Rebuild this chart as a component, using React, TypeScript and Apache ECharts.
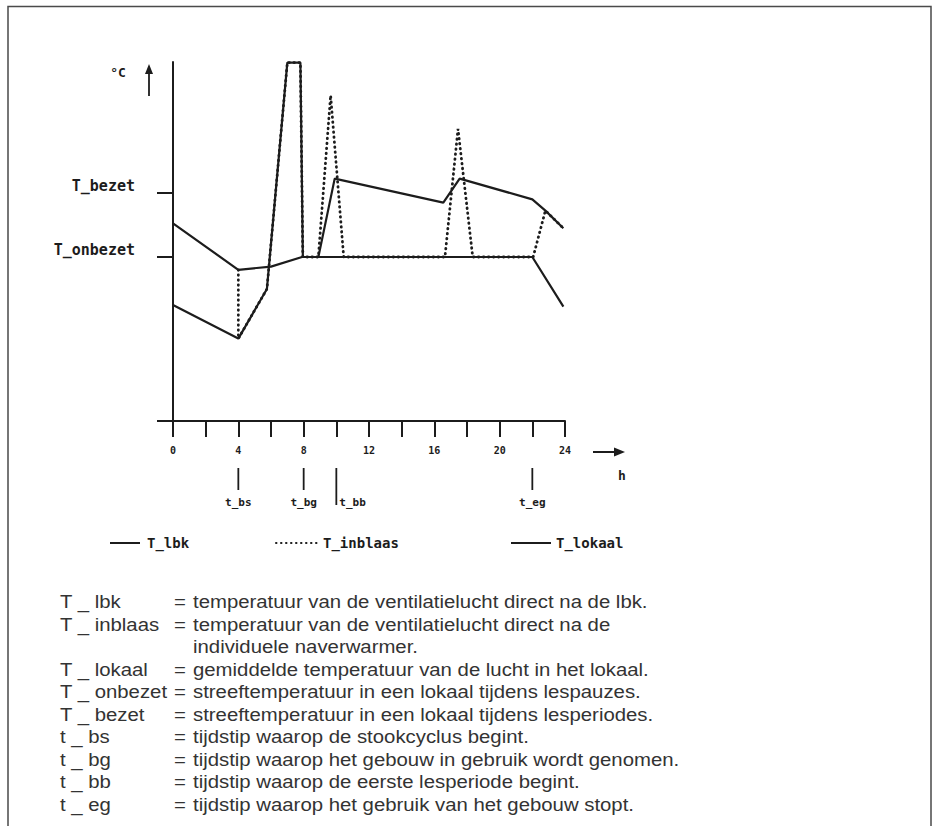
import React, { useEffect, useRef } from 'react';
import * as echarts from 'echarts';

// ---- data (hours of the day, temperature in °C on an arbitrary scale) ----
const hoursLbk = [0, 4, 5.75, 7, 7.8, 7.95, 22, 23.9];
const valuesLbk = [13.0, 10.9, 14.0, 28.15, 28.15, 16.0, 16.0, 12.9];

const hoursInblaas = [4, 4, 5.75, 7, 7.8, 7.95, 8.9, 9.65, 10.45, 16.65, 17.45, 18.35, 22.05, 22.8, 23.9];
const valuesInblaas = [15.2, 10.9, 14.0, 28.15, 28.15, 16.0, 16.0, 26.1, 16.0, 16.0, 24.0, 16.0, 16.0, 18.9, 17.8];

const hoursLokaal = [0, 4, 6, 7.9, 8.9, 9.9, 16.55, 17.55, 22, 22.8, 23.9];
const valuesLokaal = [18.1, 15.2, 15.4, 16.0, 16.0, 20.9, 19.4, 20.9, 19.6, 18.9, 17.8];

const seriesNames = ['T_lbk', 'T_inblaas', 'T_lokaal'];

const yLevelValues = [16, 20];
const yLevelLabels = ['T_onbezet', 'T_bezet'];

const timeMarkerNames = ['t_bs', 't_bg', 't_bb', 't_eg'];
const timeMarkerHours = [4, 8, 10, 22];

const defTerms = ['T _ lbk', 'T _ inblaas', '', 'T _ lokaal', 'T _ onbezet', 'T _ bezet', 't _ bs', 't _ bg', 't _ bb', 't _ eg'];
const defTexts = [
  'temperatuur van de ventilatielucht direct na de lbk.',
  'temperatuur van de ventilatielucht direct na de',
  'individuele naverwarmer.',
  'gemiddelde temperatuur van de lucht in het lokaal.',
  'streeftemperatuur in een lokaal tijdens lespauzes.',
  'streeftemperatuur in een lokaal tijdens lesperiodes.',
  'tijdstip waarop de stookcyclus begint.',
  'tijdstip waarop het gebouw in gebruik wordt genomen.',
  'tijdstip waarop de eerste lesperiode begint.',
  'tijdstip waarop het gebruik van het gebouw stopt.',
];

const INK = '#1c1c1c';
const MONO = "'DejaVu Sans Mono', monospace";
const SANS = "'Liberation Sans', Arial, sans-serif";

const pairs = (xs: number[], ys: number[]) => xs.map((x, i) => [x, ys[i]]);

export default function App() {
  const ref = useRef<HTMLDivElement>(null);
  useEffect(() => {
    if (!ref.current) return;
    const chart = echarts.init(ref.current, null, { renderer: 'svg', width: 939, height: 826 });
    const legendText = { fontFamily: MONO, fontWeight: 'bold', fontSize: 14, color: INK };
    const legendBase = { itemHeight: 14, itemGap: 0, itemStyle: { opacity: 0 }, top: 531 };
    chart.setOption({
      animation: false,
      backgroundColor: '#ffffff',
      grid: { left: 173, top: 62, width: 392, height: 359 },
      legend: [
        { ...legendBase, data: [seriesNames[0]], left: 104, itemWidth: 30, textStyle: { ...legendText, padding: [0, 0, 0, 2] } },
        { ...legendBase, data: [seriesNames[1]], left: 270, itemWidth: 42, textStyle: { ...legendText, padding: [0, 0, 0, 0] } },
        { ...legendBase, data: [seriesNames[2]], left: 505, itemWidth: 40, textStyle: { ...legendText, padding: [0, 0, 0, 0] } },
      ],
      xAxis: {
        type: 'value',
        min: 0,
        max: 24,
        interval: 2,
        axisLine: { show: true, lineStyle: { color: INK, width: 2 } },
        axisTick: { show: true, length: 16, lineStyle: { color: INK, width: 2 } },
        splitLine: { show: false },
        axisLabel: {
          margin: 24,
          fontFamily: MONO,
          fontWeight: 'bold',
          fontSize: 10,
          color: INK,
          hideOverlap: false,
          showMinLabel: true,
          showMaxLabel: true,
          formatter: (v: number) => (v % 4 === 0 ? String(v) : ''),
        },
      },
      yAxis: {
        type: 'value',
        min: 5.75,
        max: 28.1875,
        axisLine: { show: true, lineStyle: { color: INK, width: 2 } },
        axisTick: { show: true, length: 16, customValues: [5.75, ...yLevelValues], lineStyle: { color: INK, width: 2 } },
        splitLine: { show: false },
        axisLabel: {
          customValues: yLevelValues,
          margin: 38,
          verticalAlign: 'bottom',
          fontFamily: MONO,
          fontWeight: 'bold',
          fontSize: 15,
          color: INK,
          formatter: (v: number) => {
            const i = yLevelValues.indexOf(v);
            return i >= 0 ? yLevelLabels[i] : '';
          },
        },
      },
      series: [
        {
          name: seriesNames[0],
          type: 'line',
          data: pairs(hoursLbk, valuesLbk),
          symbol: 'none',
          clip: false,
          z: 3,
          lineStyle: { color: INK, width: 2.2 },
          itemStyle: { color: INK },
        },
        {
          name: seriesNames[1],
          type: 'line',
          data: pairs(hoursInblaas, valuesInblaas),
          symbol: 'none',
          clip: false,
          z: 2,
          lineStyle: { color: INK, width: 2.8, type: [0.5, 4.5], cap: 'round' },
          itemStyle: { color: INK },
        },
        {
          name: seriesNames[2],
          type: 'line',
          data: pairs(hoursLokaal, valuesLokaal),
          symbol: 'none',
          clip: false,
          z: 3,
          lineStyle: { color: INK, width: 2.2 },
          itemStyle: { color: INK },
        },
      ],
    });

    const graphics: any[] = [];
    // frame
    graphics.push({
      type: 'polyline',
      shape: { points: [[8, 826], [8, 6.5], [931, 6.5], [931, 826]] },
      style: { stroke: '#4a4a4a', lineWidth: 1.5, fill: null },
      silent: true,
    });
    // y-axis unit and arrow
    graphics.push({ type: 'text', x: 118, y: 72, style: { text: '°C', font: `bold 13px ${MONO}`, fill: INK, align: 'center', verticalAlign: 'middle' } });
    graphics.push({ type: 'line', shape: { x1: 149, y1: 96, x2: 149, y2: 70 }, style: { stroke: INK, lineWidth: 1.8 } });
    graphics.push({ type: 'polygon', shape: { points: [[145, 74], [149, 64], [153, 74]] }, style: { fill: INK } });
    // x-axis arrow and unit
    graphics.push({ type: 'line', shape: { x1: 593, y1: 452, x2: 617, y2: 452 }, style: { stroke: INK, lineWidth: 2 } });
    graphics.push({ type: 'polygon', shape: { points: [[614, 447.5], [625, 452], [614, 456.5]] }, style: { fill: INK } });
    graphics.push({ type: 'text', x: 622, y: 475, style: { text: 'h', font: `bold 13px ${MONO}`, fill: INK, align: 'center', verticalAlign: 'middle' } });

    // time markers below the axis
    timeMarkerNames.forEach((name, i) => {
      const px = chart.convertToPixel({ xAxisIndex: 0 }, timeMarkerHours[i]) as number;
      const isBB = name === 't_bb';
      graphics.push({ type: 'line', shape: { x1: px, y1: 468, x2: px, y2: isBB ? 505 : 490 }, style: { stroke: INK, lineWidth: 1.8 } });
      graphics.push({
        type: 'text',
        x: isBB ? px + 3 : px,
        y: 502,
        style: { text: name, font: `bold 11px ${MONO}`, fill: INK, align: isBB ? 'left' : 'center', verticalAlign: 'middle' },
      });
    });

    // definitions block (scanned typeface is slightly wider than Arial metrics)
    const sx = 1.1;
    defTerms.forEach((term, i) => {
      const y = 601.5 + i * 22.5;
      const font = `18.5px ${SANS}`;
      if (term) {
        graphics.push({ type: 'text', x: 60, y, scaleX: sx, style: { text: term, font, fill: '#333', verticalAlign: 'middle' } });
        graphics.push({ type: 'text', x: 174, y, scaleX: sx, style: { text: '=', font, fill: '#333', verticalAlign: 'middle' } });
      }
      graphics.push({ type: 'text', x: 193, y, scaleX: sx, style: { text: defTexts[i], font, fill: '#333', verticalAlign: 'middle' } });
    });

    chart.setOption({ graphic: graphics });

    return () => chart.dispose();
  }, []);

  return <div ref={ref} style={{ position: 'fixed', left: 0, top: 0, width: 939, height: 826, background: '#fff' }} />;
}
